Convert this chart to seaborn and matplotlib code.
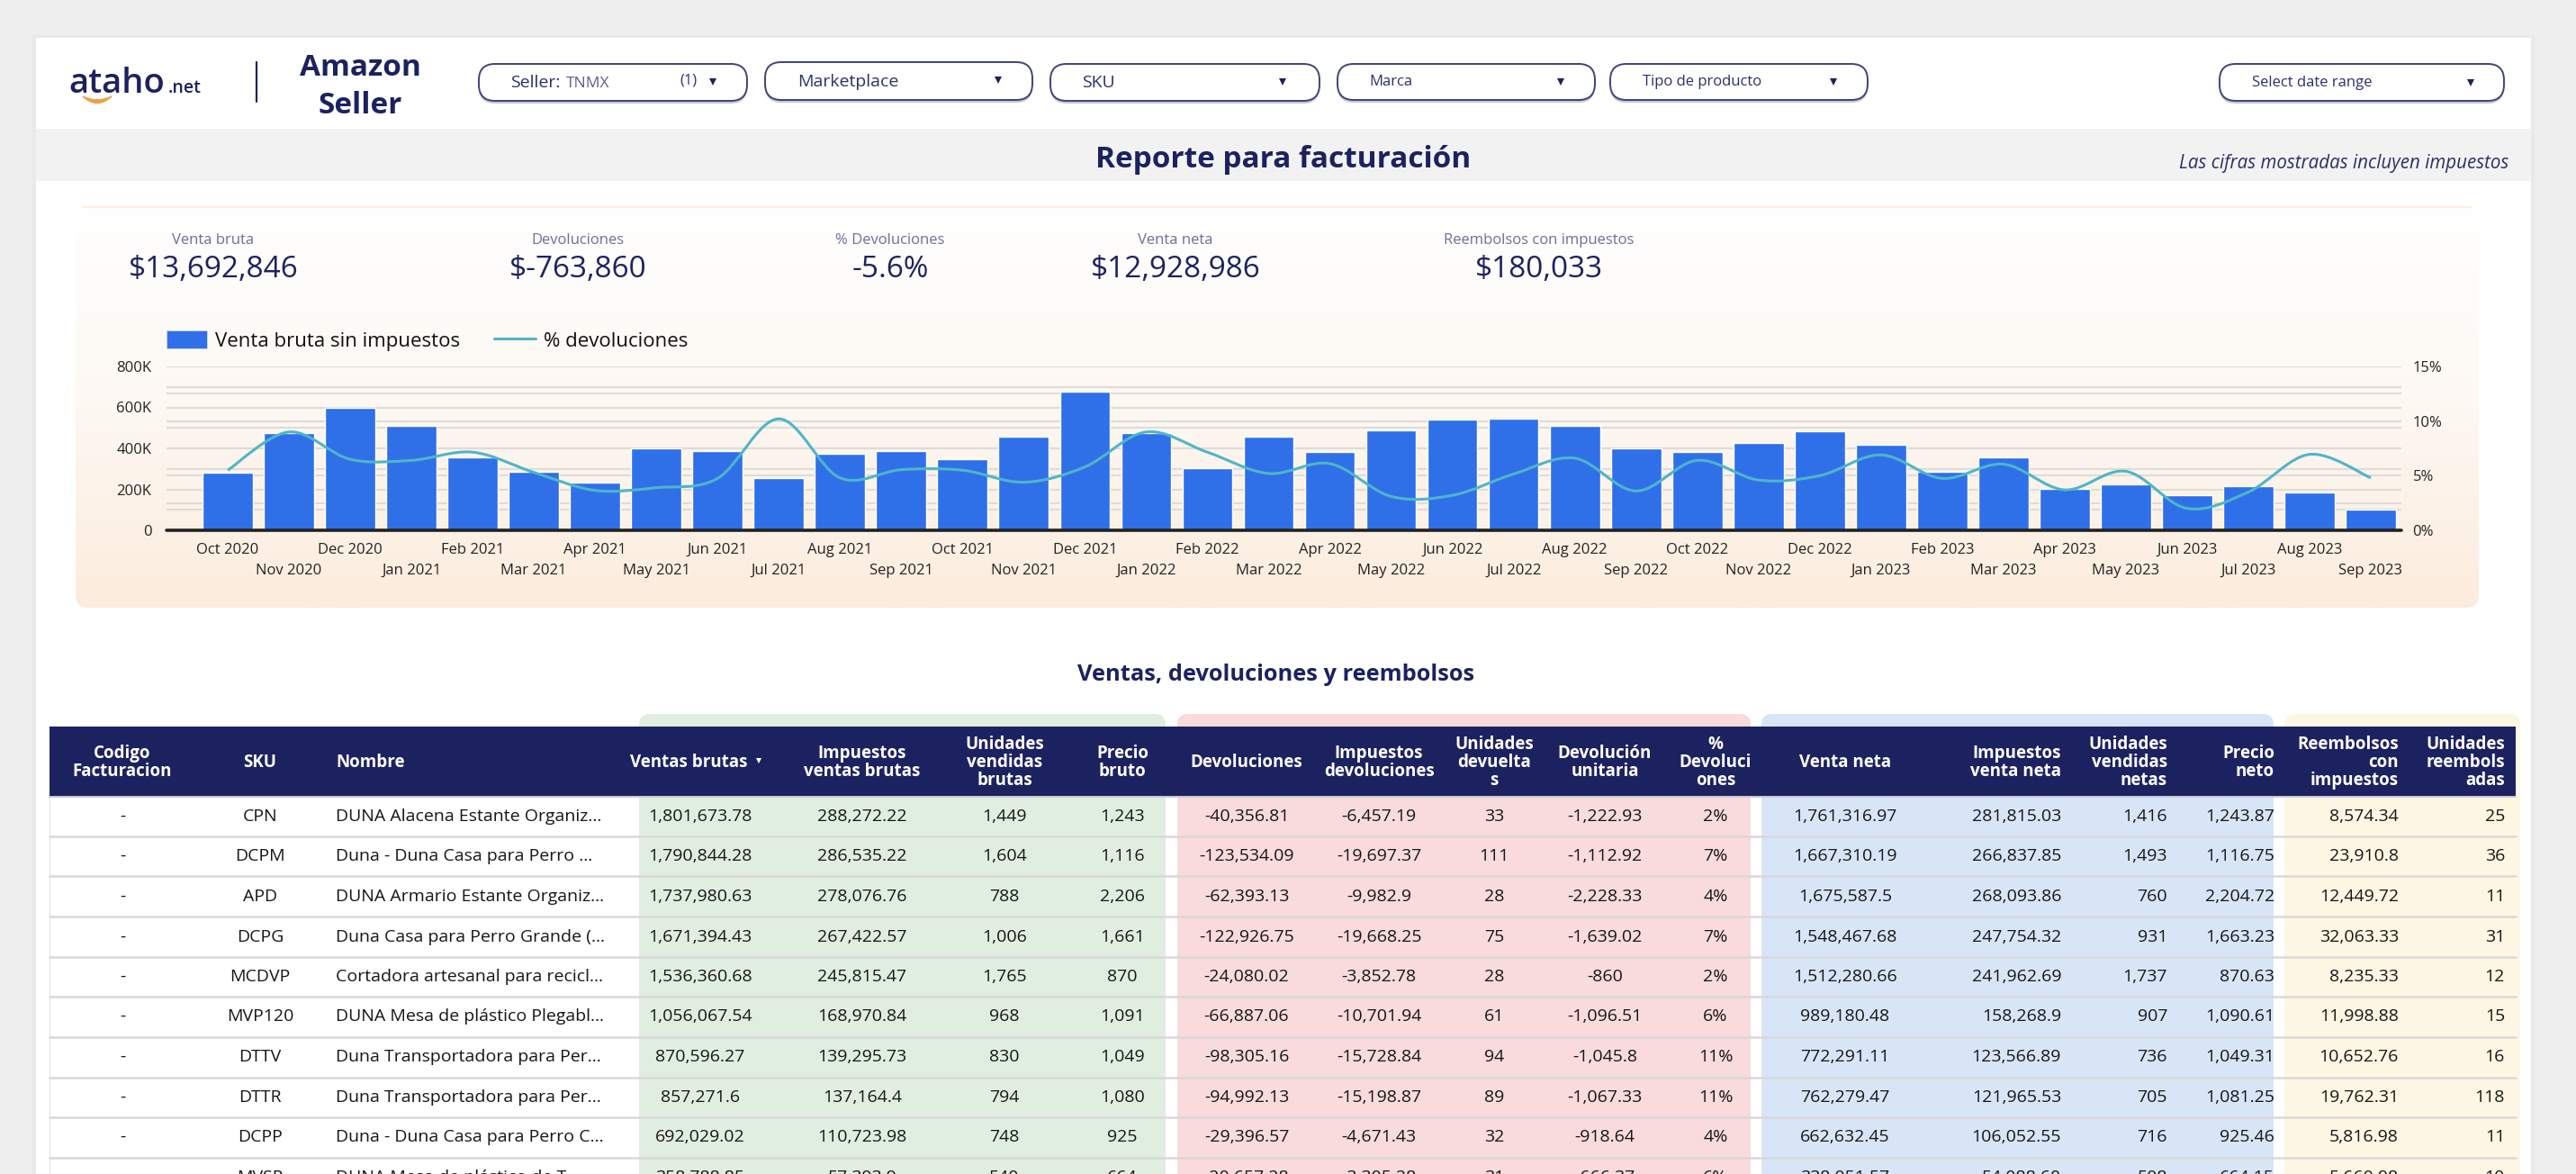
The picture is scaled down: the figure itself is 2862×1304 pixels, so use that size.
import numpy as np
import pandas as pd
import seaborn as sns
import matplotlib.pyplot as plt
from matplotlib.patches import FancyBboxPatch, Rectangle, PathPatch, Patch
from matplotlib.lines import Line2D
from matplotlib.path import Path

# chart data
months = ['Oct 2020', 'Nov 2020', 'Dec 2020', 'Jan 2021', 'Feb 2021', 'Mar 2021', 'Apr 2021', 'May 2021', 'Jun 2021',
          'Jul 2021', 'Aug 2021', 'Sep 2021', 'Oct 2021', 'Nov 2021', 'Dec 2021', 'Jan 2022', 'Feb 2022', 'Mar 2022',
          'Apr 2022', 'May 2022', 'Jun 2022', 'Jul 2022', 'Aug 2022', 'Sep 2022', 'Oct 2022', 'Nov 2022', 'Dec 2022',
          'Jan 2023', 'Feb 2023', 'Mar 2023', 'Apr 2023', 'May 2023', 'Jun 2023', 'Jul 2023', 'Aug 2023', 'Sep 2023']
venta_bruta = [280, 476, 596, 508, 356, 286, 231, 400, 385, 254, 374, 385, 349, 457, 677, 476, 305, 457,
               381, 488, 539, 546, 508, 400, 381, 425, 482, 419, 286, 356, 204, 223, 172, 216, 184, 102]
pct_devol = [5.5, 9.0, 6.5, 6.4, 7.15, 5.3, 3.65, 3.9, 4.75, 10.2, 4.8, 5.55, 5.5, 4.4, 5.8, 9.0, 7.15, 5.2,
             6.1, 3.1, 3.2, 5.15, 6.6, 3.6, 6.4, 4.6, 5.0, 6.9, 4.75, 6.05, 3.7, 5.4, 2.0, 3.5, 6.95, 4.8]

# kpis
kpi_labels = ['Venta bruta', 'Devoluciones', '% Devoluciones', 'Venta neta', 'Reembolsos con impuestos']
kpi_values = ['$13,692,846', '$-763,860', '-5.6%', '$12,928,986', '$180,033']

# table columns
codigo = ['-'] * 11
sku = ['CPN', 'DCPM', 'APD', 'DCPG', 'MCDVP', 'MVP120', 'DTTV', 'DTTR', 'DCPP', 'MVSP']
nombre = ['DUNA Alacena Estante Organiz...', 'Duna - Duna Casa para Perro ...', 'DUNA Armario Estante Organiz...',
          'Duna Casa para Perro Grande (...', 'Cortadora artesanal para recicl...', 'DUNA Mesa de plástico Plegabl...',
          'Duna Transportadora para Per...', 'Duna Transportadora para Per...', 'Duna - Duna Casa para Perro C...',
          'DUNA Mesa de plástico de T...']
ventas_brutas = ['1,801,673.78', '1,790,844.28', '1,737,980.63', '1,671,394.43', '1,536,360.68', '1,056,067.54',
                 '870,596.27', '857,271.6', '692,029.02', '358,788.85']
imp_ventas = ['288,272.22', '286,535.22', '278,076.76', '267,422.57', '245,815.47', '168,970.84', '139,295.73',
              '137,164.4', '110,723.98', '57,393.9']
uds_brutas = ['1,449', '1,604', '788', '1,006', '1,765', '968', '830', '794', '748', '540']
precio_bruto = ['1,243', '1,116', '2,206', '1,661', '870', '1,091', '1,049', '1,080', '925', '664']
devoluciones = ['-40,356.81', '-123,534.09', '-62,393.13', '-122,926.75', '-24,080.02', '-66,887.06', '-98,305.16',
                '-94,992.13', '-29,396.57', '-20,657.28']
imp_devol = ['-6,457.19', '-19,697.37', '-9,982.9', '-19,668.25', '-3,852.78', '-10,701.94', '-15,728.84',
             '-15,198.87', '-4,671.43', '-3,305.28']
uds_devueltas = ['33', '111', '28', '75', '28', '61', '94', '89', '32', '31']
devol_unitaria = ['-1,222.93', '-1,112.92', '-2,228.33', '-1,639.02', '-860', '-1,096.51', '-1,045.8', '-1,067.33',
                  '-918.64', '-666.37']
pct_col = ['2%', '7%', '4%', '7%', '2%', '6%', '11%', '11%', '4%', '6%']
venta_neta = ['1,761,316.97', '1,667,310.19', '1,675,587.5', '1,548,467.68', '1,512,280.66', '989,180.48',
              '772,291.11', '762,279.47', '662,632.45', '338,051.57']
imp_neta = ['281,815.03', '266,837.85', '268,093.86', '247,754.32', '241,962.69', '158,268.9', '123,566.89',
            '121,965.53', '106,052.55', '54,088.60']
uds_netas = ['1,416', '1,493', '760', '931', '1,737', '907', '736', '705', '716', '508']
precio_neto = ['1,243.87', '1,116.75', '2,204.72', '1,663.23', '870.63', '1,090.61', '1,049.31', '1,081.25', '925.46',
               '664.15']
reembolsos = ['8,574.34', '23,910.8', '12,449.72', '32,063.33', '8,235.33', '11,998.88', '10,652.76', '19,762.31',
              '5,816.98', '5,660.98']
uds_reemb = ['25', '36', '11', '31', '12', '15', '16', '118', '11', '10']

headers = ['Codigo\nFacturacion', 'SKU', 'Nombre', 'Ventas brutas', 'Impuestos\nventas brutas', 'Unidades\nvendidas\nbrutas',
           'Precio\nbruto', 'Devoluciones', 'Impuestos\ndevoluciones', 'Unidades\ndevuelta\ns', 'Devolución\nunitaria',
           '%\nDevoluci\nones', 'Venta neta', 'Impuestos\nventa neta', 'Unidades\nvendidas\nnetas', 'Precio\nneto',
           'Reembolsos\ncon\nimpuestos', 'Unidades\nreembols\nadas']
columns = [codigo, sku, nombre, ventas_brutas, imp_ventas, uds_brutas, precio_bruto, devoluciones, imp_devol,
           uds_devueltas, devol_unitaria, pct_col, venta_neta, imp_neta, uds_netas, precio_neto, reembolsos, uds_reemb]

# layout, in picture pixels
col_x = [136, 289, 373, 778, 958, 1116, 1247, 1385, 1532, 1660, 1783, 1906, 2050, 2290, 2408, 2527, 2665, 2783]
col_ha = ['center', 'center', 'left', 'center', 'center', 'center', 'center', 'center', 'center', 'center', 'center',
          'center', 'center', 'right', 'right', 'right', 'right', 'right']
row_y = [907, 951, 996, 1041, 1085, 1129, 1174, 1219, 1263, 1308]
row_lines = [929, 973, 1018, 1063, 1107, 1152, 1197, 1241, 1286]

NAVY = '#1c2260'
W, H = 2862, 1304
FONT = ['Open Sans', 'DejaVu Sans']

sns.set_theme(style='white')
plt.rcParams['font.family'] = FONT

fig = plt.figure(figsize=(W / 100, H / 100), dpi=100, facecolor='#eeeeee')
page = fig.add_axes([0, 0, 1, 1])
page.set_xlim(0, W)
page.set_ylim(H, 0)
page.axis('off')


def txt(x, y, s, size=14, color='#1a1a1a', ha='left', weight='normal', style='normal', va='center', **kw):
    return page.text(x, y, s, fontsize=size, color=color, ha=ha, va=va, fontweight=weight, fontstyle=style, **kw)


def pill(x0, x1, y0, y1):
    page.add_patch(FancyBboxPatch((x0, y0 + 3), x1 - x0, y1 - y0, boxstyle='round,pad=0,rounding_size=18',
                                  fc='#c4c5d6', ec='none', zorder=2))
    page.add_patch(FancyBboxPatch((x0, y0), x1 - x0, y1 - y0, boxstyle='round,pad=0,rounding_size=18',
                                  fc='white', ec='#3f4379', lw=1.4, zorder=3))


def arrow(x, y, color=NAVY, size=6):
    page.plot([x], [y], marker='v', ms=size, color=color, mew=0, zorder=4)


# page card and the grey title band
page.add_patch(Rectangle((36, 39), 2780, H, fc='#e9e9e9', ec='none', zorder=0))
page.add_patch(Rectangle((40, 42), 2772, H, fc='white', ec='none', zorder=0.5))
page.add_patch(Rectangle((40, 143), 2772, 58, fc='#f2f2f2', ec='none', zorder=1))

# logo
txt(76, 103, 'ataho', size=27.5, color=NAVY, weight='semibold', va='baseline')
txt(187, 103, '.net', size=14, color=NAVY, weight='semibold', va='baseline')
page.add_patch(PathPatch(Path([(92, 107), (108, 122), (124, 107), (108, 115), (92, 107)],
                              [Path.MOVETO, Path.CURVE3, Path.CURVE3, Path.CURVE3, Path.CURVE3]),
                         fc='#eda045', ec='#eda045', lw=1, zorder=3))
page.plot([285, 285], [69, 113], color=NAVY, lw=1.6)
txt(400, 76, 'Amazon', size=24, color=NAVY, ha='center', weight='bold')
txt(400, 117, 'Seller', size=24, color=NAVY, ha='center', weight='bold')

# filter pills
pill(532, 830, 71, 112)
pill(850, 1147, 69, 111)
pill(1167, 1466, 71, 112)
pill(1486, 1772, 71, 111)
pill(1789, 2075, 71, 111)
pill(2466, 2782, 71, 112)
txt(567, 92, 'Seller:', size=14, color='#2c3068', zorder=5)
txt(629, 93, 'TNMX', size=12.5, color='#5c5f8a', zorder=5)
txt(755, 90, '(1)', size=12, color='#2c3068', zorder=5)
arrow(792, 91)
txt(886, 91, 'Marketplace', size=14, color='#2c3068', zorder=5)
arrow(1109, 89)
txt(1202, 92, 'SKU', size=14, color='#2c3068', zorder=5)
arrow(1425, 91)
txt(1521, 91, 'Marca', size=12, color='#2c3068', zorder=5)
arrow(1734, 91)
txt(1825, 91, 'Tipo de producto', size=12, color='#2c3068', zorder=5)
arrow(2037, 91)
txt(2502, 92, 'Select date range', size=12, color='#2c3068', zorder=5)
arrow(2745, 92)

# title band text
txt(1426, 177, 'Reporte para facturación', size=24, color=NAVY, ha='center', weight='bold', zorder=5)
txt(2787, 182, 'Las cifras mostradas incluyen impuestos', size=14.8, color='#2c3068', ha='right', style='italic', zorder=5)

# panel behind the chart
panel = FancyBboxPatch((84, 231), 2670, 444, boxstyle='round,pad=0,rounding_size=14', fc='none', ec='none')
page.add_patch(panel)
grad = page.imshow(np.linspace(0, 1, 256).reshape(-1, 1), extent=(84, 2754, 675, 231), aspect='auto', zorder=1,
                   cmap=plt.matplotlib.colors.LinearSegmentedColormap.from_list('g', ['#ffffff', '#fdf8f2', '#fcecdd']))
grad.set_clip_path(panel)
page.set_xlim(0, W)
page.set_ylim(H, 0)
page.plot([93, 2745], [230, 230], color='#fdeedd', lw=1.6, zorder=2)

# kpis
for cx, lab, val in zip([237, 642, 989, 1306, 1710], kpi_labels, kpi_values):
    txt(cx, 267, lab, size=12, color='#6c6f98', ha='center', zorder=5)
    txt(cx, 299, val, size=24, color=NAVY, ha='center', zorder=5)

# combo chart
ax = fig.add_axes([185 / W, 1 - 589 / H, (2668 - 185) / W, (589 - 407) / H], facecolor='none')
df = pd.DataFrame({'mes': months, 'venta': np.array(venta_bruta) * 1000, 'pct': pct_devol})
sns.barplot(data=df, x='mes', y='venta', color='#2f70e9', saturation=1, width=0.82, ax=ax, zorder=3)
ax2 = ax.twinx()
sns.lineplot(data=df, x='mes', y='pct', sort=False, errorbar=None, ax=ax2)

# the original line is a smooth curve through each month, so swap the straight segments for beziers
pts = ax2.lines[-1].get_xydata()
ax2.lines[-1].remove()
verts = [tuple(pts[0])]
codes = [Path.MOVETO]
for i in range(len(pts) - 1):
    p0, p1, p2, p3 = pts[max(i - 1, 0)], pts[i], pts[i + 1], pts[min(i + 2, len(pts) - 1)]
    verts += [tuple(p1 + (p2 - p0) / 6), tuple(p2 - (p3 - p1) / 6), tuple(p2)]
    codes += [Path.CURVE4] * 3
ax2.add_patch(PathPatch(Path(verts, codes), fc='none', ec='#4fb5c8', lw=2.2, zorder=5))

ax.set_xlim(-1, 35.5)
ax.set_ylim(0, 800000)
ax2.set_ylim(0, 15)
ax.set_xlabel('')
ax.set_ylabel('')
ax2.set_xlabel('')
ax2.set_ylabel('')
ax.set_yticks(np.arange(0, 800001, 100000))
ax.set_yticklabels(['0', '', '200K', '', '400K', '', '600K', '', '800K'], fontsize=12, color='#222222')
ax2.set_yticks([0, 5, 10, 15])
ax2.set_yticklabels(['0%', '5%', '10%', '15%'], fontsize=12, color='#222222')
ax.grid(axis='y', color='#dedcd9', lw=1.5, zorder=0)
ax.set_axisbelow(True)
for p in np.arange(2.5, 15, 2.5):
    ax.axhline(p / 15 * 800000, color='#dedcd9', lw=1.5, zorder=0)
ax2.grid(False)
ax.tick_params(axis='y', length=0, pad=12)
ax2.tick_params(axis='y', length=0, pad=9)
ax.tick_params(axis='x', length=0, labelsize=12, labelcolor='#222222')
for i, t in enumerate(ax.xaxis.get_major_ticks()):
    t.set_pad(10 if i % 2 == 0 else 26.5)
for a in (ax, ax2):
    for s in ['top', 'left', 'right', 'bottom']:
        a.spines[s].set_visible(False)
ax.axhline(0, color='#222222', lw=2.6, zorder=6, clip_on=False)

ax.legend(handles=[Patch(fc='#2f70e9', ec='#cfd8f5', lw=0.6, label='Venta bruta sin impuestos'),
                   Line2D([], [], color='#4fb5c8', lw=2.2, label='% devoluciones')],
          loc='lower left', bbox_to_anchor=(0, 1.095), ncols=2, frameon=False, fontsize=16, labelcolor='#111111',
          handlelength=2.04, handleheight=1.05, handletextpad=0.41, columnspacing=1.7, borderaxespad=0, borderpad=0)

# table
txt(1418, 749, 'Ventas, devoluciones y reembolsos', size=18.3, color=NAVY, ha='center', weight='bold')
for x0, x1, c in [(710, 1295, '#e0eedf'), (1308, 1945, '#f8dbda'), (1957, 2526, '#d8e5f7'), (2538, 2800, '#fdf6e3')]:
    page.add_patch(FancyBboxPatch((x0, 793), x1 - x0, 700, boxstyle='round,pad=0,rounding_size=12', fc=c, ec='none', zorder=1))
page.add_patch(Rectangle((55, 807), 2740, 78, fc=NAVY, ec='none', zorder=3))
page.plot([55, 2795], [885, 885], color='#c9cad8', lw=1.4, zorder=3)
page.plot([55, 55], [885, H], color='#e6e6e6', lw=1, zorder=2)
for y in row_lines:
    page.plot([55, 2795], [y, y], color='#d9d9d9', lw=1.8, zorder=3)

for x, ha, head, values in zip(col_x, col_ha, headers, columns):
    head_x = 765 if head == 'Ventas brutas' else x
    txt(head_x, 847, head, size=13.5, color='white', ha=ha, weight='bold', linespacing=0.98, multialignment=ha, zorder=5)
    for y, v in zip(row_y, values):
        txt(x, y, v, size=14, color='#161616', ha=ha, zorder=5)
arrow(843, 845, color='white', size=5)

fig.savefig('out.png', dpi=100, facecolor=fig.get_facecolor())
